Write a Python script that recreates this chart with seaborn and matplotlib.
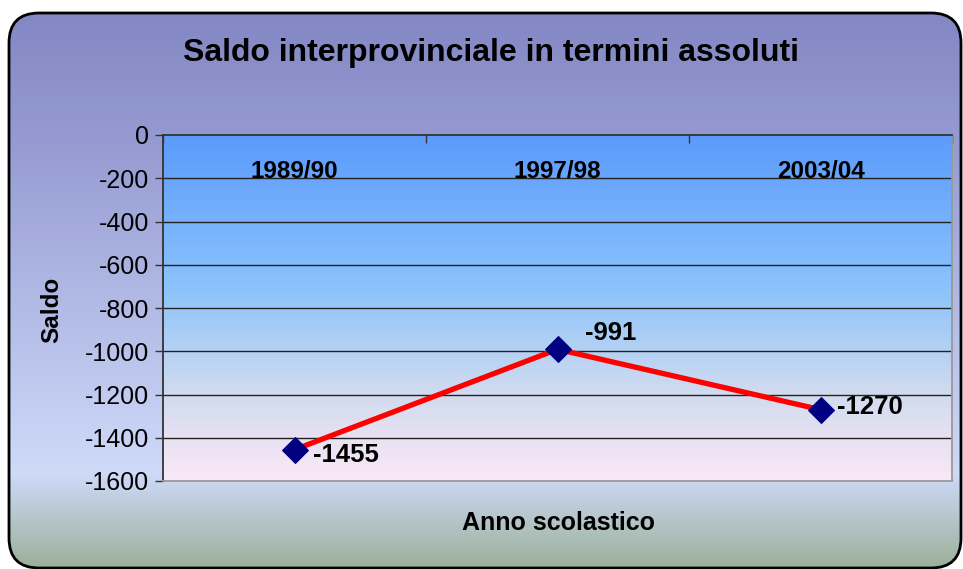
import numpy as np
import pandas as pd
import matplotlib
matplotlib.use("Agg")
import matplotlib.pyplot as plt
import seaborn as sns
from matplotlib.colors import LinearSegmentedColormap
from matplotlib.patches import FancyBboxPatch

anni = ["1989/90", "1997/98", "2003/04"]
saldo = [-1455, -991, -1270]
y_ticks = [0, -200, -400, -600, -800, -1000, -1200, -1400, -1600]

df = pd.DataFrame({"anno": anni, "saldo": saldo})

sns.set_theme(style="white")
plt.rcParams["font.family"] = ["Liberation Sans", "DejaVu Sans"]
plt.rcParams["text.color"] = "black"
plt.rcParams["ytick.labelcolor"] = "black"

W, H = 963, 569
fig = plt.figure(figsize=(W / 100, H / 100), dpi=100)
fig.patch.set_facecolor("white")

# sfondo della figura: riquadro arrotondato con gradiente
bg = fig.add_axes([0, 0, 1, 1], zorder=0)
bg.set_xlim(0, W)
bg.set_ylim(H, 0)
bg.axis("off")
fig_cmap = LinearSegmentedColormap.from_list(
    "fig_bg", [(0.0, "#8387c4"), (0.25, "#979dd3"), (0.83, "#cfdaf9"), (1.0, "#9bb09a")])
grad = np.linspace(0, 1, 256).reshape(-1, 1)
box = FancyBboxPatch((9, 13), 952, 555, boxstyle="round,pad=0,rounding_size=30",
                     facecolor="none", edgecolor="black", linewidth=2, zorder=3)
bg.add_patch(box)
im = bg.imshow(grad, cmap=fig_cmap, aspect="auto", extent=(9, 961, 568, 13), zorder=1)
im.set_clip_path(box)

# area del grafico
ax = fig.add_axes([163 / W, 1 - 481 / H, (952 - 163) / W, (481 - 135) / H], zorder=1)
plot_cmap = LinearSegmentedColormap.from_list(
    "plot_bg", [(0.0, "#5b9bfc"), (0.45, "#8dc4fb"), (0.75, "#d2dbef"), (1.0, "#fbe8f6")])
ax.imshow(grad, cmap=plot_cmap, aspect="auto", extent=(-0.5, 2.5, -1600, 0), zorder=0)

sns.lineplot(data=df, x="anno", y="saldo", ax=ax, color="#ff0000", linewidth=3.8,
             marker="D", markersize=13, markerfacecolor="#000080",
             markeredgecolor="#000080", zorder=3)

ax.set_xlim(-0.5, 2.5)
ax.set_ylim(-1600, 0)
ax.set_yticks(y_ticks)
ax.set_yticklabels([str(v) for v in y_ticks], fontsize=18, color="black")
for v in y_ticks[1:-1]:
    ax.axhline(v, color="#222222", linewidth=1, zorder=1)

ax.tick_params(axis="y", direction="out", length=6, width=1, color="#333333",
               left=True, pad=4)
ax.xaxis.tick_top()
ax.set_xticks([-0.5, 0.5, 1.5, 2.5])
ax.set_xticklabels([])
ax.tick_params(axis="x", direction="in", length=6, width=1, color="#333333", top=True)

for i, a in enumerate(anni):
    ax.text(i, -170, a, ha="center", va="center", fontsize=17.5, fontweight="bold",
            color="black", zorder=4)

# spostamenti delle etichette in punti
offsets = [(13, -3.6), (20, 12), (12, 2)]
for i, (v, off) in enumerate(zip(saldo, offsets)):
    ax.annotate(str(v), (i, v), xytext=off, textcoords="offset points",
                ha="left", va="center", fontsize=18.5, fontweight="bold",
                color="black", zorder=5)

for s in ["left", "top"]:
    ax.spines[s].set_color("#333333")
    ax.spines[s].set_linewidth(1.3)
for s in ["right", "bottom"]:
    ax.spines[s].set_color("#999999")
    ax.spines[s].set_linewidth(1.3)

ax.set_xlabel("")
ax.set_ylabel("")
fig.text(52 / W, 1 - 310 / H, "Saldo", rotation=90, ha="center", va="center",
         fontsize=17.5, fontweight="bold", color="black")
fig.text(558 / W, 1 - 523 / H, "Anno scolastico", ha="center", va="center",
         fontsize=18, fontweight="bold", color="black")
fig.text(491 / W, 1 - 53 / H, "Saldo interprovinciale in termini assoluti",
         ha="center", va="center", fontsize=23, fontweight="bold", color="black")

fig.savefig("out.png", dpi=100)
